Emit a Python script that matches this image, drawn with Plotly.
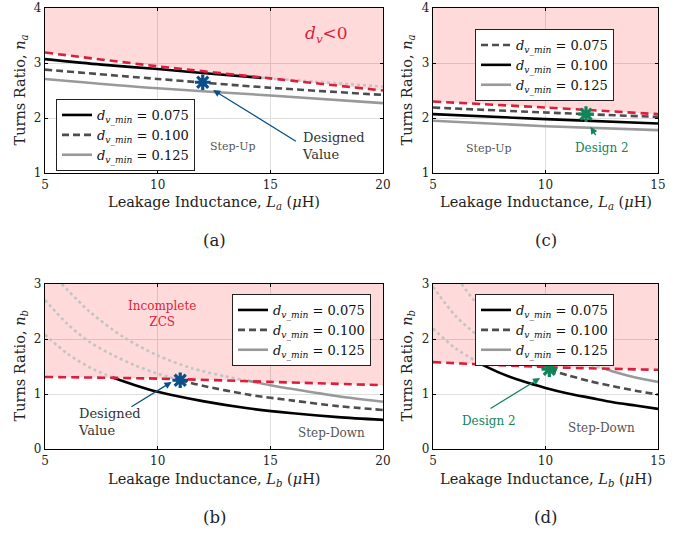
import plotly.graph_objects as go

W, H = 679, 533
FONT = "DejaVu Serif, Liberation Serif, serif"

# ---------------- data (a) ----------------
a_bound_x = [5, 10, 15, 20]
a_bound_y = [3.19, 2.94, 2.72, 2.50]
a_075_x = [5, 7.5, 10, 12.5, 14.6]
a_075_y = [3.07, 2.97, 2.89, 2.80, 2.73]
a_075_inf_x = [14.6, 17, 20]
a_075_inf_y = [2.73, 2.66, 2.57]
a_100_x = [5, 10, 15, 20]
a_100_y = [2.88, 2.71, 2.55, 2.42]
a_125_x = [5, 10, 15, 20]
a_125_y = [2.71, 2.54, 2.41, 2.27]
a_star = (12.0, 2.65)

# ---------------- data (c) ----------------
c_bound_x = [5, 10, 15]
c_bound_y = [2.30, 2.19, 2.07]
c_075_x = [5, 10, 15]
c_075_y = [2.19, 2.10, 2.02]
c_100_x = [5, 10, 15]
c_100_y = [2.07, 1.98, 1.90]
c_125_x = [5, 10, 15]
c_125_y = [1.95, 1.85, 1.78]
c_star = (11.8, 2.07)

# ---------------- data (b) ----------------
b_bound_x = [5, 10, 15, 20]
b_bound_y = [1.31, 1.28, 1.22, 1.16]
b_075_inf_x = [5, 6, 7, 8]
b_075_inf_y = [2.08, 1.73, 1.48, 1.30]
b_075_x = [8, 9, 10, 12, 14, 16, 18, 20]
b_075_y = [1.30, 1.16, 1.04, 0.87, 0.74, 0.65, 0.58, 0.53]
b_100_inf_x = [5, 6, 7, 8, 9, 10, 11]
b_100_inf_y = [2.71, 2.27, 1.94, 1.71, 1.52, 1.37, 1.25]
b_100_x = [11, 12, 14, 16, 18, 20]
b_100_y = [1.25, 1.15, 0.99, 0.88, 0.78, 0.71]
b_125_inf_x = [5.74, 7, 8.5, 10, 11.5, 13, 14]
b_125_inf_y = [3.0, 2.49, 2.03, 1.70, 1.47, 1.32, 1.24]
b_125_x = [14, 15, 16, 18, 20]
b_125_y = [1.24, 1.16, 1.09, 0.96, 0.86]
b_star = (11.0, 1.25)

# ---------------- data (d) ----------------
d_bound_x = [5, 10, 15]
d_bound_y = [1.58, 1.49, 1.44]
d_075_inf_x = [5, 6, 7.2]
d_075_inf_y = [2.19, 1.83, 1.53]
d_075_x = [7.2, 8, 9, 10, 11, 12, 13, 14, 15]
d_075_y = [1.53, 1.38, 1.23, 1.11, 1.01, 0.93, 0.85, 0.79, 0.73]
d_100_inf_x = [5, 6, 7, 8, 9, 10.17]
d_100_inf_y = [2.95, 2.42, 2.06, 1.80, 1.60, 1.44]
d_100_x = [10.17, 11, 12, 13, 14, 15]
d_100_y = [1.44, 1.34, 1.23, 1.14, 1.06, 0.99]
d_125_inf_x = [6.27, 7, 8, 9, 10, 11, 12, 12.7]
d_125_inf_y = [3.0, 2.62, 2.28, 2.03, 1.83, 1.67, 1.53, 1.45]
d_125_x = [12.7, 13, 14, 15]
d_125_y = [1.45, 1.41, 1.30, 1.22]
d_star = (10.17, 1.45)

legend_labels = ["0.075", "0.100", "0.125"]

# ---------------- styles ----------------
PINK = "rgba(255,0,0,0.145)"
RED = "#dc1e3c"
BLACK = "#000000"
DGRAY = "#4d4d4d"
LGRAY = "#999999"
DOT = "#c4c4c4"
BLUE = "#0b4f8a"
GREEN = "#11845a"
LW = 2.6


def lab(v):
    return "<i>d</i><sub><i>v</i>_<i>min</i></sub> = " + v


def px(x):
    return x / W


def py(y):
    return 1 - y / H


fig = go.Figure()


def add(x, y, ax, color, dash="solid", name=None, legend=None, width=LW):
    fig.add_trace(go.Scatter(
        x=x, y=y, mode="lines", xaxis="x" + ax, yaxis="y" + ax,
        line=dict(color=color, width=width, dash=dash, shape="spline", smoothing=0.8),
        name=name if name else "", showlegend=name is not None,
        legend=legend if legend else "legend", hoverinfo="skip"))


def shade(x, y, top, ax):
    fig.add_trace(go.Scatter(x=x, y=[top] * len(x), mode="lines", xaxis="x" + ax, yaxis="y" + ax,
                             line=dict(width=0), showlegend=False, hoverinfo="skip"))
    fig.add_trace(go.Scatter(x=x, y=y, mode="lines", xaxis="x" + ax, yaxis="y" + ax,
                             line=dict(width=0, shape="spline"), fill="tonexty", fillcolor=PINK,
                             showlegend=False, hoverinfo="skip"))


def star(pt, ax, color):
    fig.add_trace(go.Scatter(x=[pt[0]], y=[pt[1]], mode="markers", xaxis="x" + ax, yaxis="y" + ax,
                             marker=dict(symbol="asterisk-open", size=13, color=color,
                                         line=dict(color=color, width=3.2)),
                             showlegend=False, hoverinfo="skip"))


REDDASH = "8px,5px"
GDASH = "7px,4px"

# (a) -> axis ""
shade(a_bound_x, a_bound_y, 4, "")
add(a_075_inf_x, a_075_inf_y, "", DOT, dash="dot")
add(a_075_x, a_075_y, "", BLACK, name=lab(legend_labels[0]), legend="legend")
add(a_100_x, a_100_y, "", DGRAY, dash=GDASH, name=lab(legend_labels[1]), legend="legend")
add(a_125_x, a_125_y, "", LGRAY, name=lab(legend_labels[2]), legend="legend")
add(a_bound_x, a_bound_y, "", RED, dash=REDDASH)
star(a_star, "", BLUE)

# (c) -> axis "2"
shade(c_bound_x, c_bound_y, 4, "2")
add(c_075_x, c_075_y, "2", DGRAY, dash=GDASH, name=lab(legend_labels[0]), legend="legend2")
add(c_100_x, c_100_y, "2", BLACK, name=lab(legend_labels[1]), legend="legend2")
add(c_125_x, c_125_y, "2", LGRAY, name=lab(legend_labels[2]), legend="legend2")
add(c_bound_x, c_bound_y, "2", RED, dash=REDDASH)
star(c_star, "2", GREEN)

# (b) -> axis "3"
shade(b_bound_x, b_bound_y, 3, "3")
add(b_075_inf_x, b_075_inf_y, "3", DOT, dash="dot")
add(b_100_inf_x, b_100_inf_y, "3", DOT, dash="dot")
add(b_125_inf_x, b_125_inf_y, "3", DOT, dash="dot")
add(b_075_x, b_075_y, "3", BLACK, name=lab(legend_labels[0]), legend="legend3")
add(b_100_x, b_100_y, "3", DGRAY, dash=GDASH, name=lab(legend_labels[1]), legend="legend3")
add(b_125_x, b_125_y, "3", LGRAY, name=lab(legend_labels[2]), legend="legend3")
add(b_bound_x, b_bound_y, "3", RED, dash=REDDASH)
star(b_star, "3", BLUE)

# (d) -> axis "4"
shade(d_bound_x, d_bound_y, 3, "4")
add(d_075_inf_x, d_075_inf_y, "4", DOT, dash="dot")
add(d_100_inf_x, d_100_inf_y, "4", DOT, dash="dot")
add(d_125_inf_x, d_125_inf_y, "4", DOT, dash="dot")
add(d_075_x, d_075_y, "4", BLACK, name=lab(legend_labels[0]), legend="legend4")
add(d_100_x, d_100_y, "4", DGRAY, dash=GDASH, name=lab(legend_labels[1]), legend="legend4")
add(d_125_x, d_125_y, "4", LGRAY, name=lab(legend_labels[2]), legend="legend4")
add(d_bound_x, d_bound_y, "4", RED, dash=REDDASH)
star(d_star, "4", GREEN)

# ---------------- axes ----------------
L_DOM = [px(45), px(383)]
R_DOM = [px(433), px(658)]
T_DOM = [py(173), py(8)]
B_DOM = [py(449), py(284)]


def axis(dom, rng, tv, anchor):
    return dict(domain=dom, range=rng, tickvals=tv, anchor=anchor, automargin=False,
                showline=True, linecolor="black", linewidth=1.3, mirror="ticks",
                ticks="inside", ticklen=3, tickcolor="black", tickwidth=1,
                showgrid=True, gridcolor="#dedede", gridwidth=1, zeroline=False,
                tickfont=dict(family=FONT, size=12, color="#222"), fixedrange=True)


fig.update_layout(
    width=W, height=H, margin=dict(l=0, r=0, t=0, b=0, pad=0, autoexpand=False),
    paper_bgcolor="white", plot_bgcolor="white",
    font=dict(family=FONT, color="#222"),
    xaxis=axis(L_DOM, [5, 20], [5, 10, 15, 20], "y"),
    yaxis=axis(T_DOM, [1, 4], [1, 2, 3, 4], "x"),
    xaxis2=axis(R_DOM, [5, 15], [5, 10, 15], "y2"),
    yaxis2=axis(T_DOM, [1, 4], [1, 2, 3, 4], "x2"),
    xaxis3=axis(L_DOM, [5, 20], [5, 10, 15, 20], "y3"),
    yaxis3=axis(B_DOM, [0, 3], [0, 1, 2, 3], "x3"),
    xaxis4=axis(R_DOM, [5, 15], [5, 10, 15], "y4"),
    yaxis4=axis(B_DOM, [0, 3], [0, 1, 2, 3], "x4"),
)

leg_common = dict(xanchor="left", yanchor="top", bgcolor="white", bordercolor="#222",
                  borderwidth=1, font=dict(family=FONT, size=13, color="#111"),
                  itemwidth=30, tracegroupgap=0, traceorder="normal")
fig.update_layout(
    legend=dict(x=px(56), y=py(99), **leg_common),
    legend2=dict(x=px(475), y=py(29), **leg_common),
    legend3=dict(x=px(232), y=py(294), **leg_common),
    legend4=dict(x=px(475), y=py(294), **leg_common),
)

ann = []


def ptxt(x, y, text, size=14.5, angle=0, color="#222"):
    ann.append(dict(x=px(x), y=py(y), xref="paper", yref="paper", text=text, showarrow=False,
                    textangle=angle, font=dict(family=FONT, size=size, color=color),
                    xanchor="center", yanchor="middle"))


def dtxt(ax, x, y, text, size=12, color="#333", xanchor="center", align="center"):
    ann.append(dict(x=x, y=y, xref="x" + ax, yref="y" + ax, text=text, showarrow=False,
                    font=dict(family=FONT, size=size, color=color), xanchor=xanchor,
                    yanchor="middle", align=align))


def arrow(ax, tail, head, color):
    ann.append(dict(x=head[0], y=head[1], ax=tail[0], ay=tail[1], xref="x" + ax, yref="y" + ax,
                    axref="x" + ax, ayref="y" + ax, text="", showarrow=True, arrowhead=2,
                    arrowsize=1.1, arrowwidth=1.3, arrowcolor=color))


# axis titles
xt_a = "Leakage Inductance, <i>L</i><sub><i>a</i></sub> (<i>μ</i>H)"
xt_b = "Leakage Inductance, <i>L</i><sub><i>b</i></sub> (<i>μ</i>H)"
yt_a = "Turns Ratio, <i>n</i><sub><i>a</i></sub>"
yt_b = "Turns Ratio, <i>n</i><sub><i>b</i></sub>"
ptxt(214, 203, xt_a)
ptxt(545.5, 203, xt_a)
ptxt(214, 480, xt_b)
ptxt(545.5, 480, xt_b)
ptxt(20, 90.5, yt_a, angle=-90)
ptxt(407, 90.5, yt_a, angle=-90)
ptxt(20, 366.5, yt_b, angle=-90)
ptxt(407, 366.5, yt_b, angle=-90)
ptxt(214, 240, "(a)", size=16.5)
ptxt(545.5, 240, "(c)", size=16.5)
ptxt(214, 517, "(b)", size=16.5)
ptxt(545.5, 517, "(d)", size=16.5)

# in-plot texts
dtxt("", 17.5, 3.51, "<i>d</i><sub><i>v</i></sub>&lt;0", size=17, color=RED)
dtxt("", 13.35, 1.49, "Step-Up", size=11, color="#555")
dtxt("", 16.3, 1.49, "Designed<br>Value", size=13, color="#333", xanchor="left", align="left")
arrow("", (16.2, 1.56), (12.46, 2.51), BLUE)

dtxt("2", 7.5, 1.44, "Step-Up", size=11, color="#555")
dtxt("2", 12.5, 1.45, "Design 2", size=12, color=GREEN)
arrow("2", (12.27, 1.66), (12.0, 1.84), GREEN)

dtxt("3", 10.18, 2.46, "Incomplete<br>ZCS", size=12, color=RED)
dtxt("3", 6.38, 0.49, "Designed<br>Value", size=13, color="#333", xanchor="left", align="left")
dtxt("3", 17.7, 0.29, "Step-Down", size=12, color="#555")
arrow("3", (8.77, 0.75), (10.62, 1.22), BLUE)

dtxt("4", 7.5, 0.51, "Design 2", size=12, color=GREEN)
dtxt("4", 12.5, 0.39, "Step-Down", size=12, color="#555")
arrow("4", (7.49, 0.72), (9.76, 1.29), GREEN)

fig.update_layout(annotations=ann)

fig.write_html("out.html", config={"displayModeBar": False},
               post_script="document.body.style.margin='0';document.body.style.padding='0';")
